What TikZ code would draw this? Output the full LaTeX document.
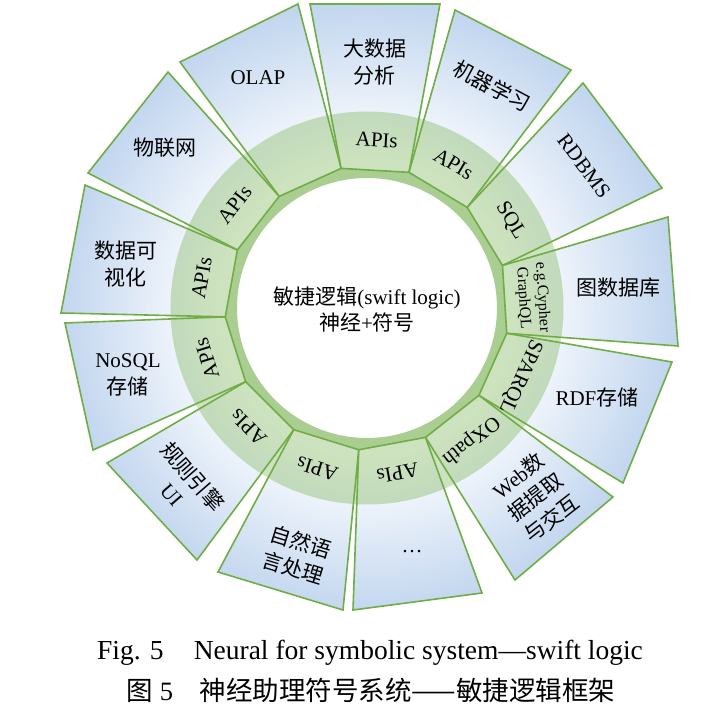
\documentclass[tikz,border=0pt]{standalone}
\usepackage{fontspec}
\setmainfont{Liberation Serif}
\newfontfamily\cjkfont{Noto Sans CJK SC}
\newcommand{\zh}[1]{{\cjkfont #1}}
\definecolor{ringgreen}{RGB}{112,173,71}
\definecolor{edgegreen}{RGB}{112,173,71}
\definecolor{boxblue}{RGB}{194,214,239}
\pgfdeclareradialshading{boxshade}{\pgfpoint{0bp}{0bp}}{color(0bp)=(white); color(11bp)=(white); color(22.5bp)=(boxblue); color(50bp)=(boxblue)}
\tikzset{
  tile/.style={draw=edgegreen, line width=1.6pt, line join=miter},
  ringlabel/.style={font=\fontsize{21}{24}\selectfont, inner sep=0pt},
  smallring/.style={font=\fontsize{16}{19}\selectfont, align=center, inner sep=0pt},
  outerlabel/.style={font=\fontsize{21}{27}\selectfont, align=center, inner sep=0pt},
  caplabel/.style={font=\fontsize{26.5}{30}\selectfont, inner sep=0pt},
}
\begin{document}
\begin{tikzpicture}[x=1pt,y=1pt]
\useasboundingbox (-367,308) rectangle (334,-407);
\coordinate (C) at (0,0);
\foreach \k in {0,...,12} {\coordinate (i\k) at ({100.5-27.6923*\k}:142);}
\coordinate (i13) at (i0);
% outer corners
\coordinate (oa0) at (-57,304);  \coordinate (ob0) at (73,304);
\coordinate (oa1) at (88,298);   \coordinate (ob1) at (204,238);
\coordinate (oa2) at (216,225);  \coordinate (ob2) at (295,120);
\coordinate (oa3) at (301,91);   \coordinate (ob3) at (311,-38);
\coordinate (oa4) at (305,-54);  \coordinate (ob4) at (256,-175);
\coordinate (oa5) at (246,-189); \coordinate (ob5) at (148,-272);
\coordinate (oa6) at (115,-285); \coordinate (ob6) at (-14,-302);
\coordinate (oa7) at (-24,-302); \coordinate (ob7) at (-149,-264);
\coordinate (oa8) at (-170,-252);\coordinate (ob8) at (-260,-155);
\coordinate (oa9) at (-274,-142);\coordinate (ob9) at (-302,-15);
\coordinate (oa10) at (-306,-5); \coordinate (ob10) at (-282,123);
\coordinate (oa11) at (-279,135);\coordinate (ob11) at (-199,236);
\coordinate (oa12) at (-187,246);\coordinate (ob12) at (-69,304);
% shaded tiles
\begin{scope}
\clip \foreach \k [count=\n from 1] in {0,...,12} {(i\k)--(oa\k)--(ob\k)--(i\n)--cycle};
\shade[shading=boxshade] (C) circle (340);
\end{scope}
% ring
\fill[ringgreen, fill opacity=0.35, even odd rule] (C) circle (196.5) (C) circle (130);
\fill[ringgreen, fill opacity=0.38, even odd rule] (i0) \foreach \k in {1,...,12} {--(i\k)} --cycle (C) circle (130);
% outlines
\foreach \k [count=\n from 1] in {0,...,12} {\draw[tile] (i\k)--(oa\k)--(ob\k)--(i\n)--cycle;}
% ring labels
\node[ringlabel, rotate=-3.35]   (r0) at (86.65:168) {APIs};
\node[ringlabel, rotate=-31.04]  (r1) at (58.96:168) {APIs};
\node[ringlabel, rotate=-58.73]  (r2) at (31.27:168) {SQL};
\node[smallring, rotate=-86.42]  (r3) at (3.58:166) {e.g.Cypher\\GraphQL};
\node[ringlabel, rotate=-114.12] (r4) at (-24.12:168) {SPARQL};
\node[ringlabel, rotate=-141.81] (r5) at (-51.81:168) {OXpath};
\node[ringlabel, rotate=-169.50] (r6) at (-79.50:168) {APIs};
\node[ringlabel, rotate=-197.19] (r7) at (-107.19:168) {APIs};
\node[ringlabel, rotate=-224.88] (r8) at (-134.88:168) {APIs};
\node[ringlabel, rotate=-252.58] (r9) at (-162.58:168) {APIs};
\node[ringlabel, rotate=-280.27] (r10) at (169.73:168) {APIs};
\node[ringlabel, rotate=-307.96] (r11) at (142.04:168) {APIs};
% outer labels
\node[outerlabel] (t0) at (8,246) {\zh{大数据}\\\zh{分析}};
\node[outerlabel, rotate=-28] (t1) at (125,222) {\zh{机器学习}};
\node[outerlabel, rotate=-53] (t2) at (217,142) {RDBMS};
\node[outerlabel] (t3) at (251,20) {\zh{图数据库}};
\node[outerlabel] (t4) at (230,-89) {RDF\zh{存储}};
\node[outerlabel, rotate=38] (t5) at (168,-189) {Web\zh{数}\\\zh{据提取}\\\zh{与交互}};
\node[outerlabel] (t6) at (45,-244) {…};
\node[outerlabel, rotate=-17] (t7) at (-70,-247) {\zh{自然语}\\\zh{言处理}};
\node[outerlabel, rotate=-49] (t8) at (-184,-177) {\zh{规则引擎}\\UI};
\node[outerlabel] (t9) at (-239,-67) {NoSQL\\\zh{存储}};
\node[outerlabel] (t10) at (-241,44) {\zh{数据可}\\\zh{视化}};
\node[outerlabel] (t11) at (-202,160) {\zh{物联网}};
\node[outerlabel] (t12) at (-109,230) {OLAP};
% centre
\node[font=\fontsize{21}{26}\selectfont, align=center, inner sep=0pt] (centre) at (0,-2) {\zh{敏捷逻辑}(swift logic)\\\zh{神经}+\zh{符号}};
% captions
\node[caplabel, font=\fontsize{27.5}{30}\selectfont] (cap1) at (3,-345) {Fig. 5\hspace{1.1em}Neural for symbolic system—swift logic};
\node[caplabel] (cap2) at (4,-382) {\zh{图} 5\hspace{1em}\zh{神经助理符号系统——敏捷逻辑框架}};
\end{tikzpicture}
\end{document}
